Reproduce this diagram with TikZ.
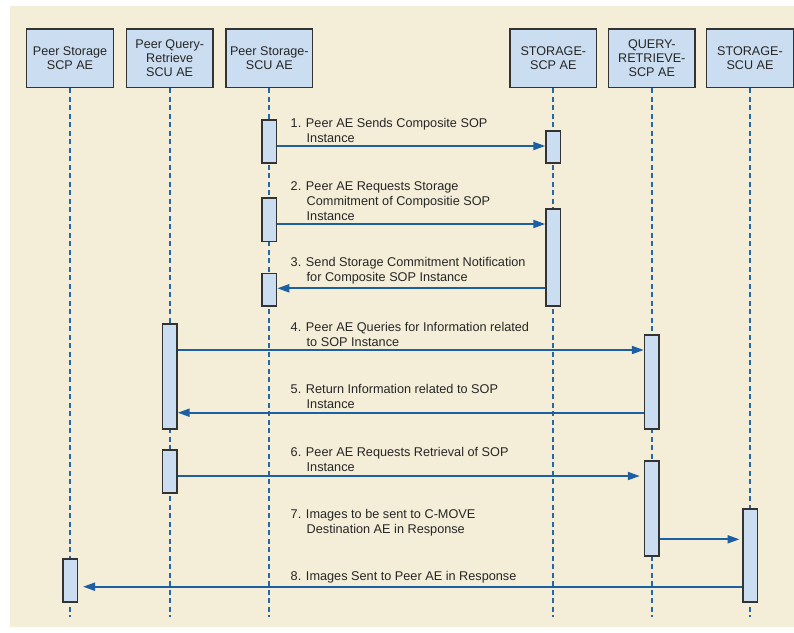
\documentclass[tikz,border=0pt]{standalone}
\usepackage{fontspec}
\setmainfont{Liberation Sans}
\usetikzlibrary{arrows.meta}
\definecolor{bgcream}{HTML}{F4EDD7}
\definecolor{boxblue}{HTML}{CBDDF0}
\definecolor{boxedge}{HTML}{333333}
\definecolor{lifeblue}{HTML}{2468A8}
\definecolor{msgblue}{HTML}{1C5FA2}
\definecolor{txt}{HTML}{262626}
\begin{document}
\begin{tikzpicture}[x=1pt,y=-1pt,
  header/.style={draw=boxedge, line width=1.5pt, fill=boxblue, minimum width=86.6pt,
    minimum height=58.4pt, inner sep=0pt, align=center,
    font=\fontsize{12.6}{14.2}\selectfont, text=txt, anchor=north},
  act/.style={draw=boxedge, line width=1.5pt, fill=boxblue, minimum width=14.5pt,
    inner sep=0pt, anchor=north},
  life/.style={draw=lifeblue, line width=2pt, dash pattern=on 5pt off 3.5pt},
  msg/.style={draw=msgblue, line width=2pt, -{Triangle[length=12pt,width=8pt]}},
  lbl/.style={anchor=west, align=left, font=\fontsize{12.7}{15}\selectfont,
    text=txt, inner sep=0pt}
]
\useasboundingbox (0,0) rectangle (794,632);
\fill[white] (0,0) rectangle (794,632);
\fill[bgcream] (10,6) rectangle (794,627);

% headers
\node[header] (h1) at (70,28.3) {Peer Storage\\SCP AE};
\node[header] (h2) at (169.7,28.3) {Peer Query-\\Retrieve\\SCU AE};
\node[header] (h3) at (269.3,28.3) {Peer Storage-\\SCU AE};
\node[header] (h4) at (553.3,28.3) {STORAGE-\\SCP AE};
\node[header] (h5) at (651.8,28.3) {QUERY-\\RETRIEVE-\\SCP AE};
\node[header] (h6) at (750,28.3) {STORAGE-\\SCU AE};

% lifelines
\coordinate (lend) at (0,616.7);
\foreach \h in {h1,h2,h3,h4,h5,h6}{
  \draw[life] (\h.south) -- (\h.south |- lend);
}

% activations
\node[act, minimum height=43.3pt] (a1) at (h3.south |- 0,119) {};
\node[act, minimum height=32.3pt] (b1) at (h4.south |- 0,130) {};
\node[act, minimum height=43.4pt] (a2) at (h3.south |- 0,197.3) {};
\node[act, minimum height=96.7pt] (b2) at (h4.south |- 0,208.3) {};
\node[act, minimum height=32.3pt] (a3) at (h3.south |- 0,272.7) {};
\node[act, minimum height=105pt] (c1) at (h2.south |- 0,323.3) {};
\node[act, minimum height=94pt] (d1) at (h5.south |- 0,334.3) {};
\node[act, minimum height=43pt] (c2) at (h2.south |- 0,449.3) {};
\node[act, minimum height=94.7pt] (d2) at (h5.south |- 0,460.3) {};
\node[act, minimum height=92.7pt] (e1) at (h6.south |- 0,508.3) {};
\node[act, minimum height=42.7pt] (f1) at (h1.south |- 0,558.3) {};

% message levels
\coordinate (m1) at (0,146);
\coordinate (m2) at (0,224);
\coordinate (m3) at (0,288.3);
\coordinate (m4) at (0,350);
\coordinate (m5) at (0,412.7);
\coordinate (m6) at (0,476);
\coordinate (m7) at (0,539.3);
\coordinate (m8) at (0,586.7);

\draw[msg] (a1.east |- m1) -- (b1.west |- m1);
\draw[msg] (a2.east |- m2) -- (b2.west |- m2);
\draw[msg] (b2.west |- m3) -- (a3.east |- m3);
\draw[msg] (c1.east |- m4) -- (d1.west |- m4);
\draw[msg] (d1.west |- m5) -- (c1.east |- m5);
\draw[msg, shorten >=4pt] (c2.east |- m6) -- (d2.west |- m6);
\draw[msg, shorten >=2.5pt] (d2.east |- m7) -- (e1.west |- m7);
\draw[msg, shorten >=5pt] (e1.west |- m8) -- (f1.east |- m8);

% labels
\node[lbl] (l1) at (290.5,130.8) {1. Peer AE Sends Composite SOP\\\hspace*{16pt}Instance};
\node[lbl] (l2) at (290.5,201.2) {2. Peer AE Requests Storage\\\hspace*{16pt}Commitment of Compositie SOP\\\hspace*{16pt}Instance};
\node[lbl] (l3) at (290.5,271.2) {3. Send Storage Commitment Notification\\\hspace*{16pt}for Composite SOP Instance};
\node[lbl] (l4) at (290.5,334.2) {4. Peer AE Queries for Information related\\\hspace*{16pt}to SOP Instance};
\node[lbl] (l5) at (290.5,396.7) {5. Return Information related to SOP\\\hspace*{16pt}Instance};
\node[lbl] (l6) at (290.5,459.2) {6. Peer AE Requests Retrieval of SOP\\\hspace*{16pt}Instance};
\node[lbl] (l7) at (290.5,522.5) {7. Images to be sent to C-MOVE\\\hspace*{16pt}Destination AE in Response};
\node[lbl] (l8) at (290.5,577.7) {8. Images Sent to Peer AE in Response};
\end{tikzpicture}
\end{document}
